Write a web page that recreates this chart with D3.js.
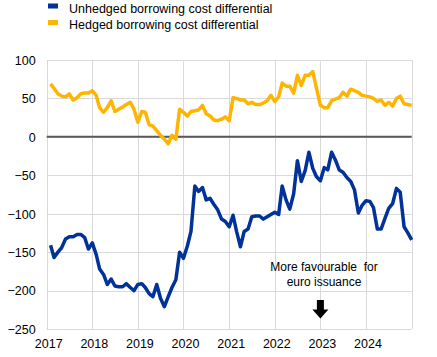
<!DOCTYPE html>
<html>
<head>
<meta charset="utf-8">
<script src="https://cdn.jsdelivr.net/npm/d3@7"></script>
<style>
  html, body { margin: 0; padding: 0; background: #fff; }
  svg { display: block; font-family: "Liberation Sans", Arial, sans-serif; }
</style>
</head>
<body>
<svg id="chart" width="437" height="357"></svg>
<script>
// ---- Data (monthly, Jan 2017 – Dec 2024, basis points) ----
const startMonth = "2017-01";
const seriesNames = ["Unhedged borrowing cost differential", "Hedged borrowing cost differential"];
const seriesColors = ["#003299", "#ffb400"];

const unhedged = [
  -141, -157, -150, -144, -133, -130, -130, -127, -127, -131, -146, -138,
  -153, -172, -179, -192, -185, -194, -195, -195, -191, -196, -200, -192,
  -191, -196, -204, -208, -192, -210, -221, -208, -196, -186, -150, -158,
  -142, -123, -64, -71, -66, -82, -80, -88, -95, -107, -110, -117,
  -102, -123, -143, -123, -120, -104, -103, -103, -107, -104, -101, -98,
  -101, -64, -82, -94, -74, -31, -58, -44, -20, -41, -52, -57,
  -40, -43, -20, -30, -43, -46, -53, -58, -69, -99, -89, -83,
  -84, -92, -120, -120, -106, -93, -87, -67, -72, -117, -125, -134
];

const hedged = [
  69, 63, 56, 53, 52, 56, 48, 51, 56, 57, 57, 60,
  54, 38, 32, 38, 47, 33, 36, 39, 42, 45, 36, 19,
  33, 32, 16, 14, 8, 2, -3, -9, 2, -3, 36, 32,
  27, 33, 34, 35, 41, 30, 27, 22, 21, 23, 26, 21,
  51, 50, 48, 48, 43, 45, 42, 42, 44, 47, 54, 46,
  52, 70, 66, 66, 57, 80, 67, 80, 80, 85, 63, 41,
  38, 38, 47, 49, 51, 58, 53, 62, 60, 58, 54, 53,
  52, 50, 46, 48, 41, 45, 40, 50, 53, 43, 42, 41
];

const yTicks = [100, 50, 0, -50, -100, -150, -200, -250];
const xTickYears = [2017, 2018, 2019, 2020, 2021, 2022, 2023, 2024, 2025];
const xTickLabels = ["2017", "2018", "2019", "2020", "2021", "2022", "2023", "2024"];
const annotationLines = ["More favourable  for", "euro issuance"];

// ---- Layout ----
const svg = d3.select("#chart");
const plot = { left: 46.7, right: 411.7, top: 60, bottom: 329 };
const FONT = "'Liberation Sans', Arial, sans-serif";

const x = d3.scaleTime()
  .domain([new Date(2017, 0, 1), new Date(2025, 0, 1)])
  .range([plot.left, plot.right]);
const y = d3.scaleLinear()
  .domain([-250, 100])
  .range([plot.bottom, plot.top]);

// month-end dates for each observation
const start = new Date(+startMonth.slice(0, 4), +startMonth.slice(5) - 1, 1);
const dates = unhedged.map((_, i) => d3.timeMonth.offset(start, i + 1));

svg.append("rect").attr("width", 437).attr("height", 357).attr("fill", "#fff");

// gridlines
const grid = svg.append("g");
grid.selectAll("line.h").data(yTicks).join("line")
  .attr("x1", plot.left).attr("x2", plot.right)
  .attr("y1", d => Math.round(y(d)) + 0.5).attr("y2", d => Math.round(y(d)) + 0.5)
  .attr("stroke", "#d9d9d9").attr("stroke-width", 1);
grid.selectAll("line.v").data(xTickYears).join("line")
  .attr("x1", d => Math.round(x(new Date(d, 0, 1))) + 0.5)
  .attr("x2", d => Math.round(x(new Date(d, 0, 1))) + 0.5)
  .attr("y1", plot.top).attr("y2", plot.bottom)
  .attr("stroke", "#d9d9d9").attr("stroke-width", 1);

// y axis labels
const yAxis = d3.axisLeft(y).tickValues(yTicks).tickSize(0).tickPadding(0).tickFormat(d3.format("d"));
const gy = svg.append("g").attr("transform", "translate(35.7,0)").call(yAxis);
gy.select(".domain").remove();
gy.selectAll("text").attr("font-size", 12.5).attr("fill", "#000")
  .attr("font-family", FONT).attr("dy", "0.35em");

// x axis labels
const xAxis = d3.axisBottom(x)
  .tickValues(xTickLabels.map(s => new Date(+s, 0, 1)))
  .tickSize(0).tickPadding(0)
  .tickFormat(d3.timeFormat("%Y"));
const gx = svg.append("g").attr("transform", "translate(1.5,339)").call(xAxis);
gx.select(".domain").remove();
gx.selectAll("text").attr("font-size", 12.5).attr("fill", "#000")
  .attr("font-family", FONT).attr("dy", "0.71em");

// zero line
svg.append("line")
  .attr("x1", plot.left).attr("x2", plot.right)
  .attr("y1", y(0)).attr("y2", y(0))
  .attr("stroke", "#595959").attr("stroke-width", 2);

// lines
const line = d3.line().x((d, i) => x(dates[i])).y(d => y(d)).curve(d3.curveLinear);
[hedged, unhedged].forEach((s, k) => {
  svg.append("path").datum(s)
    .attr("d", line)
    .attr("fill", "none")
    .attr("stroke", k === 0 ? seriesColors[1] : seriesColors[0])
    .attr("stroke-width", 3.5)
    .attr("stroke-linejoin", "round");
});

// legend
const legend = svg.append("g");
seriesNames.forEach((name, i) => {
  const ly = 3.5 + i * 16.5;
  legend.append("rect").attr("x", 48).attr("y", ly).attr("width", 10).attr("height", 5)
    .attr("fill", seriesColors[i]);
  legend.append("text").attr("x", 69).attr("y", ly + 9)
    .attr("font-size", 12.5).attr("fill", "#000").text(name);
});

// annotation
const ann = svg.append("g");
annotationLines.forEach((t, i) => {
  ann.append("text").attr("x", 324).attr("y", 271 + i * 14.5)
    .attr("text-anchor", "middle").attr("font-size", 12).attr("fill", "#000")
    .style("white-space", "pre").text(t);
});
const ax = x(new Date(2023, 0, 1));
ann.append("path")
  .attr("d", `M${ax - 3.5},300 L${ax + 3.5},300 L${ax + 3.5},309.5 L${ax + 8},309.5 L${ax},318.5 L${ax - 8},309.5 L${ax - 3.5},309.5 Z`)
  .attr("fill", "#000");
</script>
</body>
</html>
